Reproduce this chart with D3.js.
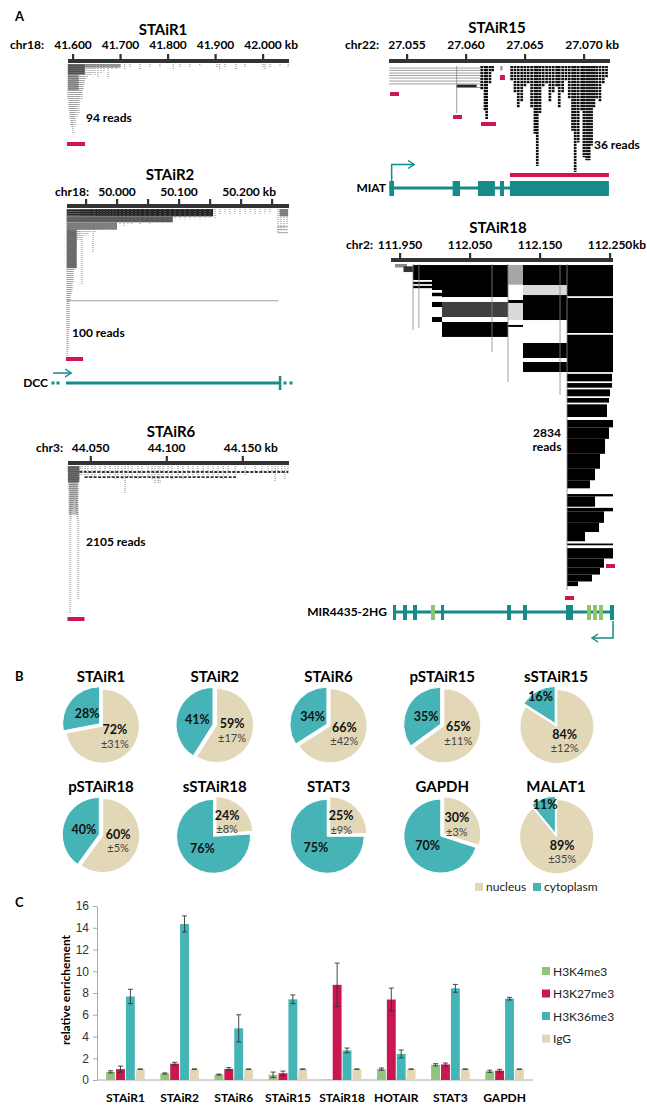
<!DOCTYPE html>
<meta charset="utf-8">
<style>
body { margin: 0; background: #fff; }
svg { font-family: Lato, "Open Sans", sans-serif; }
.ttl { font-size: 15px; font-weight: bold; text-anchor: middle; }
.coord { font-size: 12px; font-weight: bold; }
.note { font-size: 12px; font-weight: bold; }
.panel { font-size: 13px; font-weight: bold; }
.pct { font-size: 12.5px; font-weight: bold; text-anchor: middle; fill: #111; }
.sd { font-size: 11px; text-anchor: middle; fill: #444; }
.leg { font-size: 12px; fill: #222; }
.axisC text { font-size: 12px; fill: #333; }
.axisC path, .axisC line { stroke: #aaa; }
</style>
<svg width="647" height="1105"></svg>
<script src="https://d3js.org/d3.v7.min.js"></script>
<script>

// ---------- panel A : read tracks (kb, read depth) ----------
var s1Ticks = [41.6, 41.7, 41.8, 41.9, 42.0];
var s1Cols = [[41.5895,48],[41.5916,62],[41.5937,73],[41.5958,82],[41.5979,86],[41.6,93],[41.6021,75],[41.6042,82],
  [41.6063,64],[41.6084,71],[41.6105,55],[41.6126,66],[41.6147,48],[41.6168,42],[41.6189,48],[41.6211,35],[41.6232,28],
  [41.6253,21],[41.6295,19],[41.6337,16],[41.6379,15],[41.6421,13],[41.6463,16],[41.6526,19],[41.659,12],[41.665,11],
  [41.674,19],[41.682,8],[41.691,8],[41.699,5],[41.709,7],[41.72,5],[41.741,8],[41.762,4],[41.783,4],[41.811,8],[41.825,4],
  [41.846,4],[41.867,3],[41.903,5],[41.909,7],[41.92,4],[41.943,7],[41.962,4],[42.0,5],[42.004,7],[42.015,4],[42.036,3],[42.053,4]];
var s1Dense = [[41.5895,41.625,0,14,0.7],[41.625,41.70,0,5,0.4],[41.5895,41.612,14,35,0.4]];
var s1Probes = [[41.5874,41.6253]];

var s2Ticks = [49.95, 50.0, 50.05, 50.1, 50.15, 50.2, 50.25];
var s2Labels = [50.0, 50.1, 50.2];
var s2Cols = [[49.9194,100],[49.921,95],[49.9226,82],[49.9242,62],[49.9258,58],[49.9274,55],[49.929,50],[49.9306,41],
  [49.9323,34],[49.9339,28],[49.9355,21],[49.9371,20],[49.9387,18],[49.9403,21],[49.9435,51],[49.9468,18],[49.95,18],
  [49.9532,17],[49.9565,16],[49.9613,29],[49.9645,16],[49.9694,14],[49.9742,13],[49.979,14],[49.9839,12],[49.9887,13],
  [49.9935,11],[49.9984,13],[50.0048,11],[50.0113,12],[50.0177,10],[50.0242,11],[50.0306,9],[50.0371,11],[50.0452,9],
  [50.0532,10],[50.0613,9],[50.0694,8],[50.0774,7],[50.0855,8],[50.0935,7],[50.1016,7],[50.1097,7],[50.1177,7],[50.1258,6],
  [50.1339,7],[50.1419,6],[50.15,6],[50.1581,6],[50.1661,4],[50.1742,3],[50.1823,4],[50.1903,3],[50.1984,4],[50.2065,3],
  [50.2145,3],[50.2226,4],[50.2306,3],[50.2387,3],[50.2468,3],[50.2597,16],[50.2645,14],[50.2694,13],[50.2742,11]];
var s2Dense = [[49.919,50.155,0,5,0.85],[49.919,50.09,5,9,0.65],[49.919,50.0,9,14,0.5],[49.919,49.935,14,40,0.6],
  [50.262,50.276,0,5,0.5]];
var s2Spans = [[49.9194,50.26,62],[50.259,50.276,12],[50.259,50.276,14],[50.259,50.276,16]];
var s2Probes = [[49.9177,49.9452]];

var s6Ticks = [44.05, 44.10, 44.15];
var s6Cols = [[44.0351,86],[44.0357,344],[44.0364,2105],[44.037,773],[44.0377,630],[44.0384,558],[44.039,487],[44.0397,415],
  [44.0403,630],[44.041,773],[44.0416,1919],[44.0423,200],[44.043,143],[44.0443,129],[44.0463,172],[44.0482,158],[44.0509,172],
  [44.0528,143],[44.0561,158],[44.0594,172],[44.0627,158],[44.066,186],[44.068,172],[44.0706,200],[44.0726,387],[44.0746,172],
  [44.0772,158],[44.0811,186],[44.0838,158],[44.0877,172],[44.0904,200],[44.0923,258],[44.0943,258],[44.0956,243],[44.0976,172],
  [44.1009,158],[44.1035,186],[44.1074,158],[44.1107,186],[44.114,143],[44.1173,172],[44.1206,158],[44.1239,172],[44.1272,158],
  [44.1305,172],[44.1338,158],[44.1371,186],[44.1404,143],[44.145,158],[44.1516,143],[44.1581,72],[44.1627,86],[44.1667,115],
  [44.1693,86],[44.1713,229],[44.1732,100],[44.1758,115],[44.1778,200],[44.1798,86]];
var s6Dense = [[44.035,44.0425,0,230,0.65],[44.0355,44.0415,230,700,0.25]];
var s6Rows = [[44.0425,44.18,86],[44.046,44.146,160]];
var s6Probes = [[44.0347,44.0459]];

var s15Ticks = [27.055, 27.06, 27.065, 27.07];
var s15Cols = [[27.06133,8],[27.06161,15],[27.06175,18],[27.06203,6],[27.06226,2],
  [27.06387,5],[27.06415,9],[27.06443,14],[27.06472,12],[27.06499,7],[27.06527,6],[27.06556,14],[27.06584,23],[27.06604,34],
  [27.06627,16],[27.06654,7],[27.06683,6],[27.06711,12],[27.06739,9],[27.06768,7],[27.0679,14],[27.06819,9],[27.06847,5],
  [27.06875,11],[27.06903,22],[27.06925,36],[27.06951,26],[27.0698,15],[27.06999,31],[27.07022,32],[27.07044,32],
  [27.07064,27],[27.07084,14],[27.07107,11],[27.07135,12],[27.07163,6],[27.07191,4]];
var s15Spans = [[27.0535,27.0612,0.7],[27.0535,27.0612,1.5],[27.0535,27.0612,2.4],[27.0535,27.0612,3.2],
  [27.0535,27.0612,4.1],[27.0535,27.0612,5.1],[27.0535,27.0612,6.1],[27.0592,27.0612,7.3]];
var s15Dense = [[27.0592,27.0609,6.3,7.3,0.85],[27.0629,27.0631,0,1.5,0.4]];
var s15Tails = [[27.05921,16]];
var s15Probes = [[27.05356,27.05432],[27.0589,27.05966],[27.06127,27.06254],[27.06288,27.0633],[27.06372,27.07211]];
var miatLine = [27.0535, 27.07211];
var miatExons = [[27.0535,27.0539],[27.05887,27.05949],[27.06101,27.06245],[27.06288,27.06322],[27.06372,27.07211]];

var s18Ticks = [111.95, 112.05, 112.15, 112.25];
var s18Dense = [[111.9429,111.96,0,30,0.45],[111.955,111.9686,20,70,0.8],[111.9686,111.9957,9,139,1],
  [111.9686,111.9957,155,175,1],[111.9686,111.9957,190,210,1],[111.9957,112.01,9,226,1],[111.9957,112.01,250,280,1],
  [111.9957,112.01,330,374,1],[111.9957,112.01,461,504,1],[112.01,112.1043,9,287,1],[112.01,112.1043,330,461,0.75],
  [112.01,112.1043,504,634,1],[112.1043,112.1257,9,180,0.35],[112.1043,112.1257,313,339,1],[112.1043,112.1257,339,487,0.15],
  [112.1043,112.1257,530,547,1],[112.1257,112.1886,9,183,1],[112.1257,112.1886,183,270,0.15],[112.1257,112.1886,270,487,1],
  [112.1257,112.1886,687,817,1],[112.1257,112.1886,852,939,1],[112.1886,112.2543,9,280,1],[112.1886,112.2543,295,600,1],
  [112.1886,112.2543,615,940,1],[112.1886,112.2529,955,1020,1],[112.1886,112.2529,1035,1075,1],[112.1886,112.25,1090,1150,1],
  [112.1886,112.2486,1165,1205,1],[112.1886,112.2457,1220,1330,1],[112.1886,112.2543,1356,1420,1],[112.1886,112.2486,1420,1520,1],
  [112.1886,112.2429,1520,1650,1],[112.1886,112.2357,1650,1780,1],[112.1886,112.2286,1780,1880,1],[112.1886,112.2214,1880,1950,1],
  [112.1886,112.2543,2000,2020,1],[112.1886,112.2286,2020,2110,1],[112.1886,112.2543,2120,2150,1],[112.1886,112.2414,2150,2250,1],
  [112.1886,112.2343,2250,2330,1],[112.1886,112.2143,2330,2410,1],[112.1886,112.2543,2430,2445,1],[112.1886,112.2543,2470,2560,1],
  [112.1886,112.2414,2560,2640,1],[112.1886,112.2357,2640,2700,1],[112.1886,112.2243,2700,2760,1],[112.1886,112.2043,2760,2800,1]];
var s18Tails = [[111.9686,573],[111.977,556],[112.0814,765],[112.1043,1025],[112.1786,1138],[112.1886,2834]];
var s18Probes = [[112.2443,112.2571],[112.1857,112.1986]];
var mirLine = [111.94, 112.2557];
var mirExons = [[111.94,111.9443,"c"],[111.9543,111.96,"c"],[111.9686,111.9743,"c"],[111.9943,112.0,"g"],
  [112.0086,112.0129,"c"],[112.1029,112.1086,"c"],[112.1257,112.1314,"c"],[112.1871,112.1971,"c"],[112.2171,112.2229,"g"],
  [112.2257,112.2314,"g"],[112.2343,112.24,"g"],[112.25,112.2557,"c"]];
var dccLine = [49.9177, 50.2629];
var dccDots = [49.8968, 49.9048, 50.271, 50.2806];

// ---------- panel B : fractionation ----------
var pieNames = ["STAiR1","STAiR2","STAiR6","pSTAiR15","sSTAiR15","pSTAiR18","sSTAiR18","STAT3","GAPDH","MALAT1"];
var nucleus = [72, 59, 66, 65, 84, 60, 24, 25, 30, 89];
var cytoplasm = [28, 41, 34, 35, 16, 40, 76, 75, 70, 11];
var nucleusSd = [31, 17, 42, 11, 12, 5, 8, 9, 3, 35];

// ---------- panel C : ChIP ----------
var cGenes = ["STAiR1","STAiR2","STAiR6","STAiR15","STAiR18","HOTAIR","STAT3","GAPDH"];
var cMarks = ["H3K4me3","H3K27me3","H3K36me3","IgG"];
var h3k4 = [0.75, 0.6, 0.5, 0.48, 0.03, 1.0, 1.4, 0.8];
var h3k4Err = [0.1, 0.05, 0.04, 0.25, 0, 0.1, 0.1, 0.1];
var h3k27 = [1.0, 1.5, 1.02, 0.62, 8.75, 7.4, 1.43, 0.86];
var h3k27Err = [0.28, 0.13, 0.12, 0.2, 2.0, 1.05, 0.13, 0.12];
var h3k36 = [7.68, 14.35, 4.75, 7.42, 2.72, 2.4, 8.43, 7.48];
var h3k36Err = [0.66, 0.74, 1.25, 0.4, 0.22, 0.36, 0.36, 0.12];
var igg = [1, 1, 1, 1, 1, 1, 1, 1];
var iggErr = [0.01, 0.01, 0.01, 0.01, 0.01, 0.01, 0.01, 0.01];

var svg = d3.select("svg");
var geneTeal = "#178a8a", probeRed = "#d0154f", geneGreen = "#8fc46f";
var shade = d3.scaleLinear().domain([0, 1]).range(["#ffffff", "#000000"]);

function drawTrack(t) {
  var x = d3.scaleLinear().domain(t.tickDom).range(t.tickPx),
      y = d3.scaleLinear().domain([0, t.maxReads]).range([t.readTop, t.readBottom]),
      g = svg.append("g");

  g.append("text").attr("class", "ttl").attr("x", t.titleX).attr("y", t.titleY).text(t.title);
  g.append("text").attr("class", "coord").attr("x", t.chrX).attr("y", t.labelY)
      .attr("text-anchor", "end").text(t.chr);
  var lab = g.selectAll(".tl").data(t.labels).enter().append("text")
      .attr("class", "coord").attr("x", d => x(d)).attr("y", t.labelY)
      .attr("text-anchor", "middle").text(d => d.toFixed(3));
  var last = lab.nodes()[lab.size() - 1];
  var kb = g.append("text").attr("class", "coord").attr("y", t.labelY).attr("text-anchor", "end").text("kb");
  var kbEnd = x(t.labels[t.labels.length - 1]) + last.getComputedTextLength() / 2 + 3 + kb.node().getComputedTextLength();
  kb.attr("x", Math.min(kbEnd, 646));

  g.selectAll(".dense").data(t.dense || []).enter().append("rect")
      .attr("x", d => x(d[0])).attr("width", d => Math.max(1, x(d[1]) - x(d[0])))
      .attr("y", d => y(d[2])).attr("height", d => Math.max(1, y(d[3]) - y(d[2])))
      .attr("fill", d => shade(d[4]));

  g.selectAll(".span").data(t.spans || []).enter().append("line")
      .attr("x1", d => x(d[0])).attr("x2", d => x(d[1]))
      .attr("y1", d => y(d[2])).attr("y2", d => y(d[2]))
      .attr("stroke", "#888").attr("stroke-width", 0.8);

  g.selectAll(".row").data(t.rows || []).enter().append("line")
      .attr("x1", d => x(d[0])).attr("x2", d => x(d[1]))
      .attr("y1", d => y(d[2])).attr("y2", d => y(d[2]))
      .attr("stroke", "#333").attr("stroke-width", 1.8).attr("stroke-dasharray", "3,1.5");

  g.selectAll(".tail").data(t.tails || []).enter().append("line")
      .attr("x1", d => x(d[0])).attr("x2", d => x(d[0]))
      .attr("y1", y(0)).attr("y2", d => y(d[1]))
      .attr("stroke", "#888").attr("stroke-width", 0.8);

  g.selectAll(".col").data(t.cols || []).enter().append("line")
      .attr("x1", d => x(d[0])).attr("x2", d => x(d[0]))
      .attr("y1", y(0)).attr("y2", d => y(d[1]))
      .attr("stroke", t.colStyle == "dash" ? "#111" : "#777")
      .attr("stroke-width", t.colStyle == "dash" ? 2.7 : 0.9)
      .attr("stroke-dasharray", t.colStyle == "dash" ? "2.2,0.8" : "1,1");

  // axis bar and ticks
  g.append("rect").attr("x", t.axisX[0]).attr("y", t.axisY - 2)
      .attr("width", t.axisX[1] - t.axisX[0]).attr("height", 4).attr("fill", "#333");
  g.selectAll(".tk").data(t.ticks).enter().append("rect")
      .attr("x", d => x(d) - 1).attr("y", t.axisY - 7).attr("width", 2.2).attr("height", 6).attr("fill", "#333");

  g.selectAll(".probe").data(t.probes).enter().append("rect")
      .attr("x", d => x(d[0])).attr("width", d => Math.max(3, x(d[1]) - x(d[0])))
      .attr("y", (d, i) => t.probeY[i] - 2).attr("height", (d, i) => t.probeH ? t.probeH[i] : 4)
      .attr("fill", probeRed);

  t.note.lines.forEach(function(s, i) {
    g.append("text").attr("class", "note").attr("x", t.note.x).attr("y", t.note.y + i * 14)
        .attr("text-anchor", t.note.anchor || "start").text(s);
  });
  return x;
}

var x1 = drawTrack({title: "STAiR1", titleX: 163, titleY: 35, chr: "chr18:", chrX: 44, labelY: 49,
  ticks: s1Ticks, labels: s1Ticks, tickDom: [41.6, 42.0], tickPx: [73, 263], axisX: [68, 289], axisY: 61,
  maxReads: 94, readTop: 64, readBottom: 134, cols: s1Cols, colStyle: "dot", dense: s1Dense,
  probes: s1Probes, probeY: [144], note: {lines: ["94  reads"], x: 86, y: 122}});

var x2 = drawTrack({title: "STAiR2", titleX: 170, titleY: 180, chr: "chr18:", chrX: 89, labelY: 196,
  ticks: s2Ticks, labels: s2Labels, tickDom: [50.0, 50.2], tickPx: [117, 241], axisX: [67, 289], axisY: 206,
  maxReads: 100, readTop: 209, readBottom: 357, cols: s2Cols, colStyle: "dot", dense: s2Dense, spans: s2Spans,
  probes: s2Probes, probeY: [359], note: {lines: ["100 reads"], x: 72, y: 337}});

var x6 = drawTrack({title: "STAiR6", titleX: 171, titleY: 437, chr: "chr3:", chrX: 63, labelY: 452,
  ticks: s6Ticks, labels: s6Ticks, tickDom: [44.05, 44.15], tickPx: [90.7, 242.7], axisX: [68, 289], axisY: 463,
  maxReads: 2105, readTop: 466, readBottom: 613, cols: s6Cols, colStyle: "dot", dense: s6Dense, rows: s6Rows,
  probes: s6Probes, probeY: [619], note: {lines: ["2105 reads"], x: 86, y: 546}});

var x15 = drawTrack({title: "STAiR15", titleX: 497, titleY: 33, chr: "chr22:", chrX: 379, labelY: 49,
  ticks: s15Ticks, labels: s15Ticks, tickDom: [27.055, 27.07], tickPx: [407, 584], axisX: [389, 610], axisY: 61,
  maxReads: 36, readTop: 66, readBottom: 172, cols: s15Cols, colStyle: "dash", dense: s15Dense, spans: s15Spans,
  tails: s15Tails, probes: s15Probes, probeY: [94, 117, 124, 77, 175], probeH: [4, 4, 4, 5, 4],
  note: {lines: ["36 reads"], x: 594, y: 149}});

var x18 = drawTrack({title: "STAiR18", titleX: 498, titleY: 233, chr: "chr2:", chrX: 373, labelY: 249,
  ticks: s18Ticks, labels: s18Ticks, tickDom: [111.95, 112.25], tickPx: [400, 610], axisX: [391, 613], axisY: 260,
  maxReads: 2834, readTop: 264, readBottom: 590, dense: s18Dense, tails: s18Tails,
  probes: s18Probes, probeY: [566, 598], note: {lines: ["2834", "reads"], x: 547, y: 437, anchor: "middle"}});

// ---------- gene models ----------
function arrowHead(g, px, py, dir) {
  g.append("path").attr("d", "M" + (px - dir * 6) + "," + (py - 4) + "L" + px + "," + py + "L" + (px - dir * 6) + "," + (py + 4))
      .attr("fill", "none").attr("stroke", geneTeal).attr("stroke-width", 1.5);
}

// DCC
var gd = svg.append("g");
gd.append("text").attr("class", "note").attr("x", 48).attr("y", 387).attr("text-anchor", "end").text("DCC");
gd.append("line").attr("x1", x2(dccLine[0])).attr("x2", x2(dccLine[1])).attr("y1", 383).attr("y2", 383)
    .attr("stroke", geneTeal).attr("stroke-width", 3);
gd.append("rect").attr("x", x2(dccLine[1]) - 1.2).attr("y", 376).attr("width", 2.5).attr("height", 14).attr("fill", geneTeal);
gd.selectAll(".dot").data(dccDots).enter().append("rect")
    .attr("x", d => x2(d) - 1.5).attr("y", 381.5).attr("width", 3).attr("height", 3).attr("fill", geneTeal);
gd.append("line").attr("x1", x2(dccDots[0])).attr("x2", x2(49.926)).attr("y1", 373).attr("y2", 373)
    .attr("stroke", geneTeal).attr("stroke-width", 1.5);
arrowHead(gd, x2(49.926), 373, 1);

// MIAT
var gm = svg.append("g");
gm.append("text").attr("class", "note").attr("x", 386).attr("y", 192).attr("text-anchor", "end").text("MIAT");
gm.append("line").attr("x1", x15(miatLine[0])).attr("x2", x15(miatLine[1])).attr("y1", 188).attr("y2", 188)
    .attr("stroke", geneTeal).attr("stroke-width", 3);
gm.selectAll(".ex").data(miatExons).enter().append("rect")
    .attr("x", d => x15(d[0])).attr("width", d => x15(d[1]) - x15(d[0]))
    .attr("y", 181).attr("height", 15).attr("fill", geneTeal);
gm.append("path").attr("d", "M" + x15(27.0537) + ",181V164.5H" + x15(27.0556))
    .attr("fill", "none").attr("stroke", geneTeal).attr("stroke-width", 1.5);
arrowHead(gm, x15(27.0556), 164.5, 1);

// MIR4435-2HG
var gr = svg.append("g");
gr.append("text").attr("class", "note").attr("x", 387).attr("y", 616).attr("text-anchor", "end").text("MIR4435-2HG");
gr.append("line").attr("x1", x18(mirLine[0])).attr("x2", x18(mirLine[1])).attr("y1", 612).attr("y2", 612)
    .attr("stroke", geneTeal).attr("stroke-width", 3);
gr.selectAll(".ex").data(mirExons).enter().append("rect")
    .attr("x", d => x18(d[0])).attr("width", d => x18(d[1]) - x18(d[0]))
    .attr("y", 605).attr("height", 15).attr("fill", d => d[2] == "g" ? geneGreen : geneTeal);
gr.append("path").attr("d", "M" + x18(112.2543) + ",621V638H" + x18(112.2243))
    .attr("fill", "none").attr("stroke", geneTeal).attr("stroke-width", 1.5);
arrowHead(gr, x18(112.2243), 638, -1);

// ---------- panel B ----------
var nucCol = "#e2d7b7", cytCol = "#46b4b6";
var pieX = d3.scalePoint().domain(d3.range(5)).range([101, 556]);
var pieRowY = [725, 835], pieTitleY = [682, 792];
var R = 37;
var pie = d3.pie().sort(null).value(d => d.v);
var arc = d3.arc().innerRadius(0).outerRadius(R);

pieNames.forEach(function(name, i) {
  var cx = pieX(i % 5), row = Math.floor(i / 5);
  svg.append("text").attr("class", "ttl").attr("x", cx).attr("y", pieTitleY[row]).text(name);
  var g = svg.append("g").attr("transform", "translate(" + cx + "," + pieRowY[row] + ")");
  var slices = pie([{k: "n", v: nucleus[i]}, {k: "c", v: cytoplasm[i]}]);
  slices.forEach(function(a) {
    var mid = (a.startAngle + a.endAngle) / 2, off = 1.8,
        dx = Math.sin(mid) * off, dy = -Math.cos(mid) * off;
    g.append("path").attr("d", arc(a)).attr("transform", "translate(" + dx + "," + dy + ")")
        .attr("fill", a.data.k == "n" ? nucCol : cytCol).attr("stroke", "#fff").attr("stroke-width", 1);
    var lr = a.data.v < 20 ? 32 : 18,
        lx = Math.sin(mid) * lr, ly = -Math.cos(mid) * lr;
    if (a.data.k == "n") {
      g.append("text").attr("class", "pct").attr("x", lx).attr("y", ly - 2).text(a.data.v + "%");
      g.append("text").attr("class", "sd").attr("x", lx).attr("y", ly + 11.5).text("±" + nucleusSd[i] + "%");
    } else {
      g.append("text").attr("class", "pct").attr("x", lx).attr("y", ly + 4.5).text(a.data.v + "%");
    }
  });
});

var legB = svg.append("g");
[["nucleus", nucCol, 475], ["cytoplasm", cytCol, 533]].forEach(function(d) {
  legB.append("rect").attr("x", d[2]).attr("y", 883).attr("width", 8).attr("height", 8).attr("fill", d[1]);
  legB.append("text").attr("class", "leg").attr("x", d[2] + 11).attr("y", 891).text(d[0]);
});

// ---------- panel C ----------
var barCols = ["#93c47d", "#c9174f", "#45b4b7", "#e2d6b4"];
var series = [h3k4, h3k27, h3k36, igg], seriesErr = [h3k4Err, h3k27Err, h3k36Err, iggErr];
var xc = d3.scaleBand().domain(cGenes).range([97, 533]).paddingInner(0.27).paddingOuter(0.16);
var xs = d3.scaleBand().domain(d3.range(4)).range([0, xc.bandwidth()]);
var yc = d3.scaleLinear().domain([0, 16]).range([1080, 906]);

svg.append("g").attr("class", "axisC").attr("transform", "translate(97,0)")
    .call(d3.axisLeft(yc).tickValues(d3.range(0, 17, 2)).tickSize(4).tickSizeOuter(0).tickPadding(4));
svg.append("line").attr("x1", 97).attr("x2", 533).attr("y1", yc(0)).attr("y2", yc(0)).attr("stroke", "#aaa");

var gc = svg.append("g");
cGenes.forEach(function(gene, i) {
  series.forEach(function(s, k) {
    var bx = xc(gene) + xs(k), bw = xs.bandwidth(), cxm = bx + bw / 2;
    gc.append("rect").attr("x", bx + 0.5).attr("width", bw - 1)
        .attr("y", yc(s[i])).attr("height", yc(0) - yc(s[i])).attr("fill", barCols[k]);
    var e = seriesErr[k][i];
    if (e > 0) {
      gc.append("line").attr("x1", cxm).attr("x2", cxm).attr("y1", yc(s[i] - e)).attr("y2", yc(s[i] + e))
          .attr("stroke", "#333").attr("stroke-width", 0.9);
      [s[i] - e, s[i] + e].forEach(function(v) {
        gc.append("line").attr("x1", cxm - 2.5).attr("x2", cxm + 2.5).attr("y1", yc(v)).attr("y2", yc(v))
            .attr("stroke", "#333").attr("stroke-width", 0.9);
      });
    }
  });
  gc.append("text").attr("class", "note").attr("x", xc(gene) + xc.bandwidth() / 2).attr("y", 1102)
      .attr("text-anchor", "middle").text(gene);
});

svg.append("text").attr("class", "note").attr("transform", "translate(70,990) rotate(-90)")
    .attr("text-anchor", "middle").text("relative enrichement");

var legC = svg.append("g");
cMarks.forEach(function(m, k) {
  var ly = 971 + k * 22.5;
  legC.append("rect").attr("x", 542).attr("y", ly - 4).attr("width", 8).attr("height", 8).attr("fill", barCols[k]);
  legC.append("text").attr("class", "leg").attr("x", 553).attr("y", ly + 4.5).text(m);
});

// panel letters
[["A", 15, 21], ["B", 15, 681], ["C", 15, 907]].forEach(function(d) {
  svg.append("text").attr("class", "panel").attr("x", d[1]).attr("y", d[2]).text(d[0]);
});

</script>
